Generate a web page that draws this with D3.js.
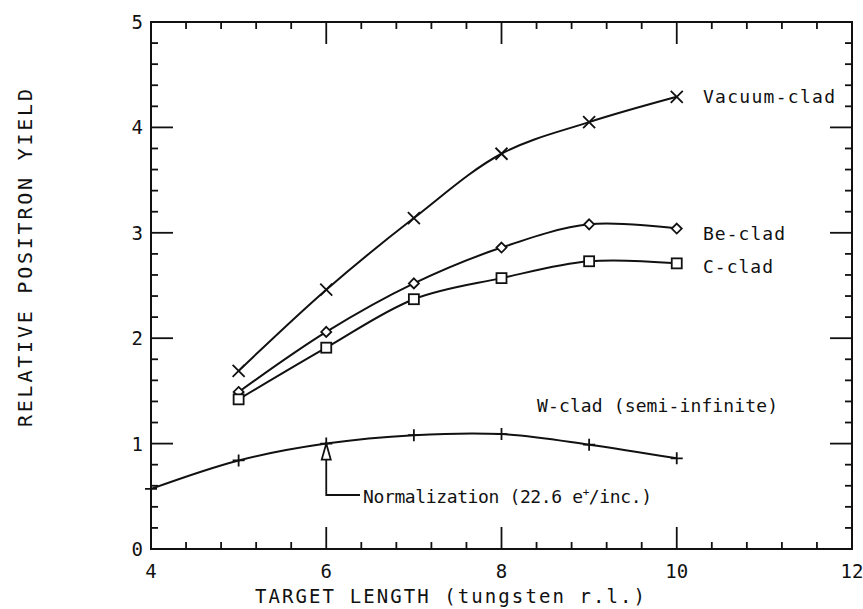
<!DOCTYPE html>
<html lang="en">
  <head>
    <meta charset="utf-8">
    <title>Relative positron yield</title>
    <script type="text/javascript" src="https://d3js.org/d3.v7.min.js"></script>
    <style>
      body { margin: 0; background: #fff; }
      text { font-family: "DejaVu Sans Mono", "Liberation Mono", monospace; fill: #111; }
    </style>
  </head>
  <body>
    <svg class="chart"></svg>
  </body>
  <script>
    //Data
    const xTicks = [4, 6, 8, 10, 12];
    const yTicks = [0, 1, 2, 3, 4, 5];
    const lengths = [5, 6, 7, 8, 9, 10];
    const vacuumClad = [1.69, 2.46, 3.14, 3.75, 4.05, 4.29];
    const beClad = [1.49, 2.06, 2.52, 2.86, 3.08, 3.04];
    const cClad = [1.42, 1.91, 2.37, 2.57, 2.73, 2.71];
    const wLengths = [4, 5, 6, 7, 8, 9, 10];
    const wClad = [0.57, 0.84, 1.0, 1.08, 1.09, 0.99, 0.86];
    const normPoint = [6, 1.0];

    const width = 863, height = 609;
    const svg = d3.select(".chart").attr("width", width).attr("height", height);

    const x = d3.scaleLinear().domain([4, 12]).range([151, 852]);
    const y = d3.scaleLinear().domain([0, 5]).range([549, 22]);

    const ink = "#111";

    //frame
    svg.append("rect")
      .attr("x", x(4)).attr("y", y(5))
      .attr("width", x(12) - x(4)).attr("height", y(0) - y(5))
      .attr("fill", "none").attr("stroke", ink).attr("stroke-width", 2);

    //inward ticks on all four sides
    const xMinor = [4.4, 4.8, 5.2, 5.6, 6.4, 6.8, 7.2, 7.6, 8.4, 8.8, 9.2, 9.6, 10.4, 10.8, 11.2, 11.6];
    const yMinor = d3.range(0, 25).map(i => i / 5).filter(v => v % 1 != 0);

    var xt = [];
    xMinor.forEach(v => xt.push({v: v, len: 7}));
    xTicks.forEach(v => xt.push({v: v, len: 22}));
    var yt = [];
    yMinor.forEach(v => yt.push({v: v, len: 7}));
    yTicks.forEach(v => yt.push({v: v, len: 22}));

    const tickG = svg.append("g");
    tickG.selectAll(".xb").data(xt).join("line").attr("class", "xb")
      .attr("x1", d => x(d.v)).attr("x2", d => x(d.v))
      .attr("y1", y(0)).attr("y2", d => y(0) - d.len)
      .attr("stroke", ink).attr("stroke-width", 1.8);
    tickG.selectAll(".xt").data(xt).join("line").attr("class", "xt")
      .attr("x1", d => x(d.v)).attr("x2", d => x(d.v))
      .attr("y1", y(5)).attr("y2", d => y(5) + d.len)
      .attr("stroke", ink).attr("stroke-width", 1.8);
    tickG.selectAll(".yl").data(yt).join("line").attr("class", "yl")
      .attr("x1", x(4)).attr("x2", d => x(4) + d.len)
      .attr("y1", d => y(d.v)).attr("y2", d => y(d.v))
      .attr("stroke", ink).attr("stroke-width", 1.8);
    tickG.selectAll(".yr").data(yt).join("line").attr("class", "yr")
      .attr("x1", x(12)).attr("x2", d => x(12) - d.len)
      .attr("y1", d => y(d.v)).attr("y2", d => y(d.v))
      .attr("stroke", ink).attr("stroke-width", 1.8);

    //tick labels
    svg.append("g").selectAll("text").data(xTicks).join("text")
      .attr("x", d => x(d)).attr("y", 578)
      .attr("text-anchor", "middle").attr("font-size", 19)
      .text(d => d);

    svg.append("g").selectAll("text").data(yTicks).join("text")
      .attr("x", 143).attr("y", d => y(d) + 7)
      .attr("text-anchor", "end").attr("font-size", 19)
      .text(d => d);

    //axis titles
    svg.append("text")
      .attr("x", 255).attr("y", 603)
      .attr("font-size", 19)
      .attr("textLength", 390).attr("lengthAdjust", "spacing")
      .text("TARGET LENGTH (tungsten r.l.)");

    svg.append("text")
      .attr("transform", "translate(32, 427) rotate(-90)")
      .attr("font-size", 20)
      .attr("textLength", 338).attr("lengthAdjust", "spacing")
      .text("RELATIVE POSITRON YIELD");

    //curves
    const line = d3.line()
      .x(d => x(d[0])).y(d => y(d[1]))
      .curve(d3.curveCatmullRom.alpha(0.5));

    const series = [
      {name: "vacuum", xs: lengths, ys: vacuumClad, marker: "x"},
      {name: "be", xs: lengths, ys: beClad, marker: "diamond"},
      {name: "c", xs: lengths, ys: cClad, marker: "square"},
      {name: "w", xs: wLengths, ys: wClad, marker: "plus"}
    ];

    series.forEach(s => {
      const pts = s.xs.map((v, i) => [v, s.ys[i]]);
      svg.append("path")
        .attr("d", line(pts))
        .attr("fill", "none").attr("stroke", ink).attr("stroke-width", 2);

      const g = svg.append("g").attr("stroke", ink).attr("stroke-width", 1.8).attr("fill", "#fff");
      pts.forEach(p => {
        const cx = x(p[0]), cy = y(p[1]);
        if (s.marker == "x") {
          g.append("path").attr("d", `M${cx - 6},${cy - 6}L${cx + 6},${cy + 6}M${cx - 6},${cy + 6}L${cx + 6},${cy - 6}`);
        } else if (s.marker == "diamond") {
          g.append("path").attr("d", `M${cx},${cy - 5}L${cx + 5},${cy}L${cx},${cy + 5}L${cx - 5},${cy}Z`);
        } else if (s.marker == "square") {
          g.append("rect").attr("x", cx - 5).attr("y", cy - 5).attr("width", 10).attr("height", 10);
        } else {
          g.append("path").attr("d", `M${cx - 6},${cy}L${cx + 6},${cy}M${cx},${cy - 6}L${cx},${cy + 6}`);
        }
      });
    });

    //series labels
    const labels = [
      {text: "Vacuum-clad", x: 703, y: 103, len: 132},
      {text: "Be-clad", x: 703, y: 240, len: 82},
      {text: "C-clad", x: 703, y: 273, len: 70},
      {text: "W-clad (semi-infinite)", x: 537, y: 412, len: 241}
    ];
    svg.append("g").selectAll("text").data(labels).join("text")
      .attr("x", d => d.x).attr("y", d => d.y)
      .attr("font-size", 18)
      .attr("textLength", d => d.len).attr("lengthAdjust", "spacing")
      .text(d => d.text);

    //normalization arrow
    const ax = x(normPoint[0]), ay = y(normPoint[1]);
    svg.append("path")
      .attr("d", `M${ax},${ay + 16}L${ax},${495}L${360},${495}`)
      .attr("fill", "none").attr("stroke", ink).attr("stroke-width", 1.8);
    svg.append("path")
      .attr("d", `M${ax},${ay}L${ax + 4.5},${ay + 16}L${ax - 4.5},${ay + 16}Z`)
      .attr("fill", "#fff").attr("stroke", ink).attr("stroke-width", 1.8);

    const norm = svg.append("text")
      .attr("x", 363).attr("y", 503)
      .attr("font-size", 18)
      .attr("textLength", 289).attr("lengthAdjust", "spacing");
    norm.append("tspan").text("Normalization (22.6 e");
    norm.append("tspan").attr("dy", -7).attr("font-size", 11).text("+");
    norm.append("tspan").attr("dy", 7).text("/inc.)");
  </script>
</html>
